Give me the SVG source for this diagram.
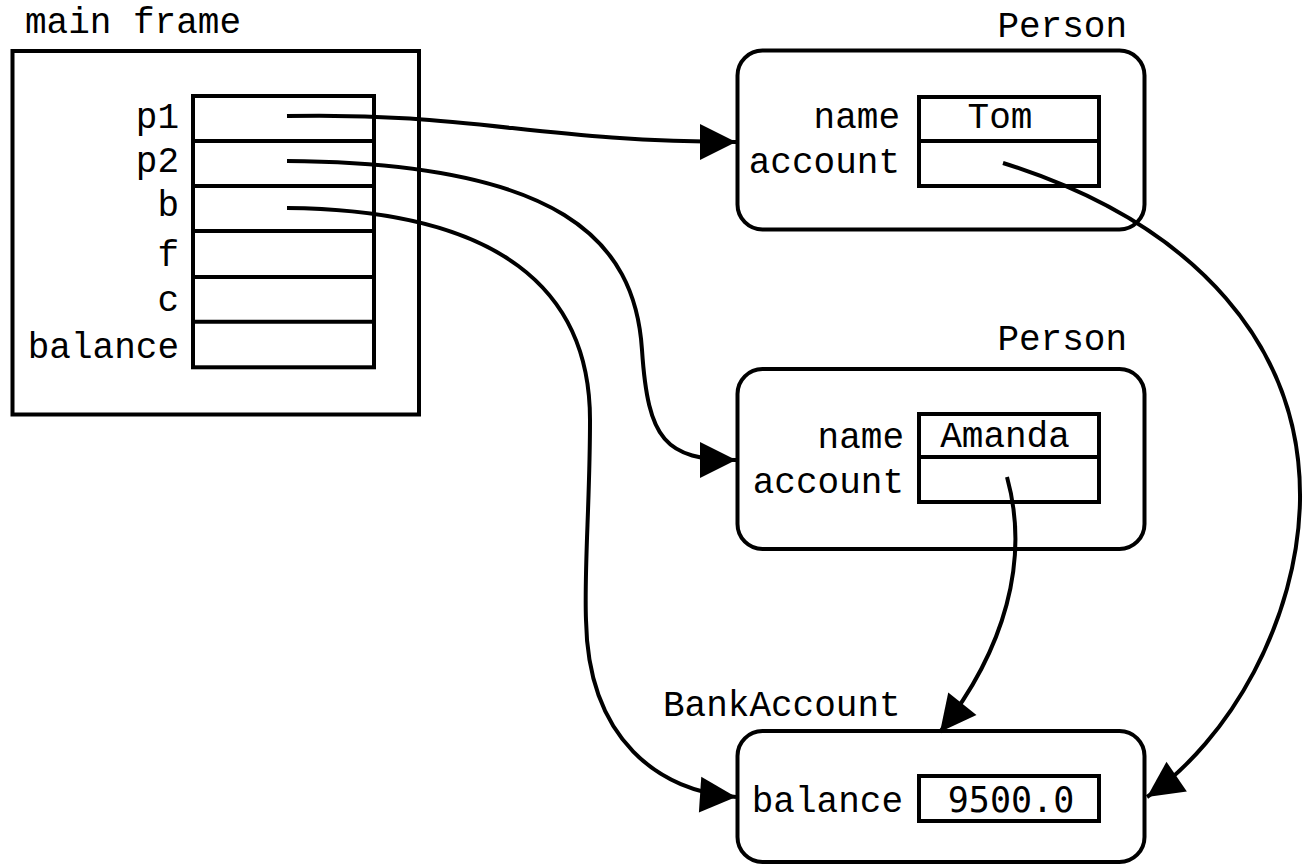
<svg xmlns="http://www.w3.org/2000/svg" width="1304" height="867" viewBox="0 0 1304 867">
  <style>
    .box { fill: none; stroke: #000; stroke-width: 4; }
    .obj { fill: #fff; stroke: #000; stroke-width: 4; }
    .t { font-family: "Liberation Mono", "DejaVu Sans Mono", monospace; font-size: 36px; fill: #000; }
    .num { font-family: "DejaVu Sans Mono", "Liberation Mono", monospace; font-size: 35px; fill: #000; }
    .end { text-anchor: end; }
    .mid { text-anchor: middle; }
    .ref { fill: none; stroke: #000; stroke-width: 4; marker-end: url(#head); }
  </style>
  <defs>
    <marker id="head" markerUnits="userSpaceOnUse" markerWidth="38" markerHeight="38" refX="36" refY="18" orient="auto" overflow="visible">
      <path d="M0,0 L36,18 L0,36 Z" fill="#000"/>
    </marker>
  </defs>
  <rect width="1304" height="867" fill="#fff"/>

  <!-- stack frame of main -->
  <g id="main-frame">
    <text class="t" x="25" y="33">main frame</text>
    <rect class="box" x="12.5" y="51" width="406.5" height="363.5"/>
    <rect class="box" x="193" y="96" width="181" height="271.3"/>
    <line class="box" x1="193" y1="141" x2="374" y2="141"/>
    <line class="box" x1="193" y1="186" x2="374" y2="186"/>
    <line class="box" x1="193" y1="231" x2="374" y2="231"/>
    <line class="box" x1="193" y1="277" x2="374" y2="277"/>
    <line class="box" x1="193" y1="321.7" x2="374" y2="321.7"/>
    <text class="t end" x="179" y="127.7">p1</text>
    <text class="t end" x="179" y="171.7">p2</text>
    <text class="t end" x="179" y="216">b</text>
    <text class="t end" x="179" y="265.7">f</text>
    <text class="t end" x="179" y="310.7">c</text>
    <text class="t end" x="179" y="358.3">balance</text>
  </g>

  <!-- Person object: Tom -->
  <g id="person-tom">
    <text class="t end" x="1127" y="37">Person</text>
    <rect class="obj" x="737.5" y="50.5" width="407" height="179" rx="25" ry="25"/>
    <rect class="box" x="919" y="97" width="180" height="89"/>
    <line class="box" x1="919" y1="141" x2="1099" y2="141"/>
    <text class="t end" x="900" y="128.3">name</text>
    <text class="t end" x="900" y="173.3">account</text>
    <text class="t mid" x="1000" y="127.7">Tom</text>
  </g>

  <!-- Person object: Amanda -->
  <g id="person-amanda">
    <text class="t end" x="1127" y="350">Person</text>
    <rect class="obj" x="737.5" y="369" width="407" height="180" rx="25" ry="25"/>
    <rect class="box" x="919" y="414" width="180" height="88"/>
    <line class="box" x1="919" y1="457" x2="1099" y2="457"/>
    <text class="t end" x="904" y="447.7">name</text>
    <text class="t end" x="904" y="493.3">account</text>
    <text class="t mid" x="1005" y="446.7">Amanda</text>
  </g>

  <!-- BankAccount object -->
  <g id="bank-account">
    <text class="t" x="663" y="716">BankAccount</text>
    <rect class="obj" x="737.5" y="731" width="407" height="131" rx="25" ry="25"/>
    <rect class="box" x="919" y="776" width="180" height="45"/>
    <text class="t end" x="903" y="811.7">balance</text>
    <text class="num mid" x="1011" y="811.7">9500.0</text>
  </g>

  <!-- references -->
  <g id="connectors">
    <path class="ref" d="M287,116 C470,112 540,142 736,142"/>
    <path class="ref" d="M287,161 C560,163 635,240 642,350 C648,440 665,460 736,460"/>
    <path class="ref" d="M287,208 C500,210 590,290 590,420 C590,500 584,570 586,620 C588,740 660,792 736,797"/>
    <path class="ref" d="M1003,163 C1200,225 1302,350 1300,500 C1298,620 1230,740 1147,797"/>
    <path class="ref" d="M1007,477 C1030,560 1005,650 940,732"/>
  </g>
</svg>
